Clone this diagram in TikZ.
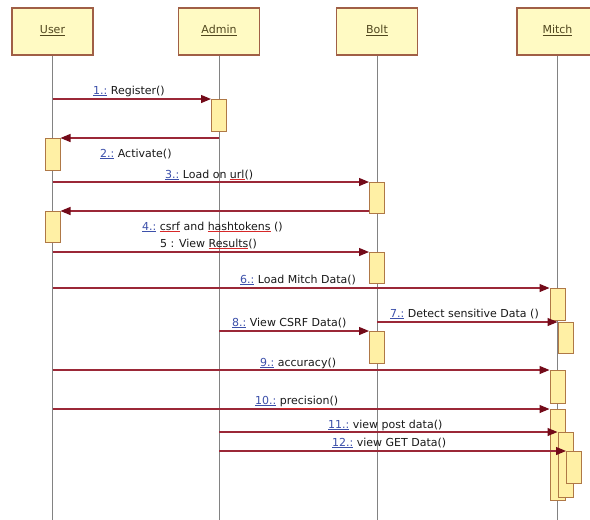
\documentclass[tikz,border=0pt]{standalone}
\usepackage{fontspec}
\setmainfont{DejaVu Sans}
\usetikzlibrary{arrows.meta}
\definecolor{hdrfill}{RGB}{255,250,195}
\definecolor{hdrborder}{RGB}{160,95,70}
\definecolor{actfill}{RGB}{255,240,165}
\definecolor{actborder}{RGB}{175,120,70}
\definecolor{lifegray}{RGB}{130,130,130}
\definecolor{msgred}{RGB}{155,40,55}
\definecolor{arrowred}{RGB}{115,10,25}
\definecolor{numblue}{RGB}{60,80,170}
\definecolor{hdrtext}{RGB}{80,70,30}
\definecolor{labeltext}{RGB}{25,25,25}
\definecolor{spellred}{RGB}{215,40,40}
\newcommand{\msgnum}[1]{\textcolor{numblue}{\underline{#1}}}
\newcommand{\spellul}[1]{\rlap{\textcolor{spellred}{\underline{\phantom{#1}}}}#1}
\begin{document}
\begin{tikzpicture}[x=1pt,y=-1pt,
  header/.style={draw=hdrborder, fill=hdrfill, line width=1.3pt, minimum width=81pt, minimum height=47pt, inner sep=0pt, text=hdrtext, font=\fontsize{11}{13}\selectfont},
  act/.style={draw=actborder, fill=actfill, line width=1pt, minimum width=15pt, inner sep=0pt, anchor=north},
  lifeline/.style={draw=lifegray, line width=0.9pt},
  msg/.style={draw=msgred, line width=1.2pt, -{Triangle[length=10pt,width=8pt,color=arrowred]}},
  msglabel/.style={anchor=west, inner sep=0pt, text=labeltext, font=\fontsize{11}{13}\selectfont}
]
\useasboundingbox (0,0) rectangle (590,520);
\clip (0,0) rectangle (590,520);
\fill[white] (0,0) rectangle (590,520);

% headers
\node[header] (User)  at (52.5,31.5) {\raisebox{4pt}{\underline{User}}};
\node[header] (Admin) at (219,31.5)  {\raisebox{4pt}{\underline{Admin}}};
\node[header] (Bolt)  at (377,31.5)  {\raisebox{4pt}{\underline{Bolt}}};
\node[header] (Mitch) at (557.5,31.5) {\raisebox{4pt}{\underline{Mitch}}};

% lifelines
\coordinate (bottom) at (0,522);
\draw[lifeline] (User.south)  -- (User.south |- bottom);
\draw[lifeline] (Admin.south) -- (Admin.south |- bottom);
\draw[lifeline] (Bolt.south)  -- (Bolt.south |- bottom);
\draw[lifeline] (Mitch.south) -- (Mitch.south |- bottom);

% activation boxes
\node[act, minimum height=32pt] (aA1) at (219,99) {};
\node[act, minimum height=32pt] (aU1) at (52.5,138) {};
\node[act, minimum height=31pt] (aB1) at (377,182) {};
\node[act, minimum height=31pt] (aU2) at (52.5,211) {};
\node[act, minimum height=31pt] (aB2) at (377,252) {};
\node[act, minimum height=32pt] (aM1) at (557.5,288) {};
\node[act, minimum height=31pt] (aM2) at (565.5,322) {};
\node[act, minimum height=32pt] (aB3) at (377,331) {};
\node[act, minimum height=33pt] (aM3) at (557.5,370) {};
\node[act, minimum height=91pt] (aM4) at (557.5,409) {};
\node[act, minimum height=65pt] (aM5) at (565.5,432) {};
\node[act, minimum height=32pt] (aM6) at (574,451) {};

% messages
\draw[msg] (User.south |- aA1.north) -- (aA1.north west);
\draw[msg] (Admin.south |- aU1.north) -- (aU1.north east);
\draw[msg] (User.south |- aB1.north) -- (aB1.north west);
\draw[msg] (aB1.west |- aU2.north) -- (aU2.north east);
\draw[msg] (User.south |- aB2.north) -- (aB2.north west);
\draw[msg] (User.south |- aM1.north) -- (aM1.north west);
\draw[msg] (Bolt.south |- aM2.north) -- (aM2.north west);
\draw[msg] (Admin.south |- aB3.north) -- (aB3.north west);
\draw[msg] (User.south |- aM3.north) -- (aM3.north west);
\draw[msg] (User.south |- aM4.north) -- (aM4.north west);
\draw[msg] (Admin.south |- aM5.north) -- (aM5.north west);
\draw[msg] (Admin.south |- aM6.north) -- (aM6.north west);

% labels
\node[msglabel] (l1)  at (93,91)   {\msgnum{1.:} Register()};
\node[msglabel] (l2)  at (100,154) {\msgnum{2.:} Activate()};
\node[msglabel] (l3)  at (165,175) {\msgnum{3.:} Load on \spellul{url}()};
\node[msglabel] (l4)  at (142,227) {\msgnum{4.:} \spellul{csrf} and \spellul{hashtokens} ()};
\node[msglabel] (l5)  at (160,244) {5 : View \spellul{Results}()};
\node[msglabel] (l6)  at (240,280) {\msgnum{6.:} Load Mitch Data()};
\node[msglabel] (l7)  at (390,314) {\msgnum{7.:} Detect sensitive Data ()};
\node[msglabel] (l8)  at (232,323) {\msgnum{8.:} View CSRF Data()};
\node[msglabel] (l9)  at (260,363) {\msgnum{9.:} accuracy()};
\node[msglabel] (l10) at (255,402) {\msgnum{10.:} \spellul{precision}()};
\node[msglabel] (l11) at (328,425) {\msgnum{11.:} view post data()};
\node[msglabel] (l12) at (332,443) {\msgnum{12.:} view GET Data()};
\end{tikzpicture}
\end{document}
